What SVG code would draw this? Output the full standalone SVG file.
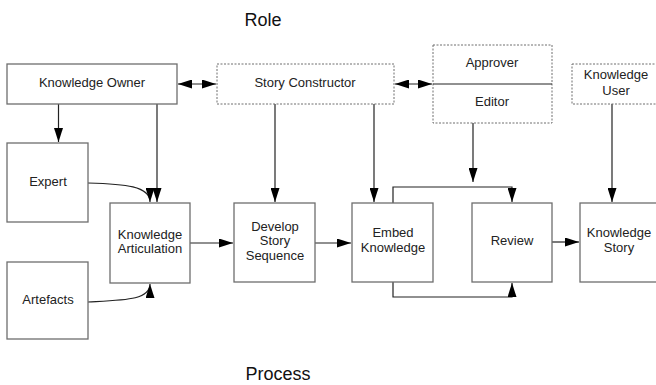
<svg xmlns="http://www.w3.org/2000/svg" width="656" height="385" viewBox="0 0 656 385">
<defs>
<marker id="ah" markerUnits="userSpaceOnUse" markerWidth="14" markerHeight="9" refX="14" refY="4.5" orient="auto-start-reverse" viewBox="0 0 14 9">
<path d="M0,0 L14,4.5 L0,9 z" fill="#000"/>
</marker>
</defs>
<style>
.box{fill:#fff;stroke:#6e6e6e;stroke-width:1.3}
.dash{fill:#fff;stroke:#6e6e6e;stroke-width:1;stroke-dasharray:2,1.5}
.t{font-family:"Liberation Sans",Arial,sans-serif;font-size:13px;fill:#222;text-anchor:middle;dominant-baseline:middle}
.h{font-family:"Liberation Sans",Arial,sans-serif;font-size:18px;fill:#111;text-anchor:middle;dominant-baseline:middle}
.c{fill:none;stroke:#222;stroke-width:1.2}
.a{marker-end:url(#ah)}
.b{marker-start:url(#ah);marker-end:url(#ah)}
</style>
<rect width="656" height="385" fill="#fff"/>
<text class="h" x="263" y="21">Role</text>
<text class="h" x="278" y="375">Process</text>

<g id="connectors">
<path class="c b" d="M178,84 L216,84"/>
<path class="c b" d="M395,84 L432,84"/>
<path class="c a" d="M58.5,104 L58.5,142"/>
<path class="c a" d="M157,104 L157,202"/>
<path class="c a" d="M88,183 C125,184 150,186 150,202"/>
<path class="c a" d="M88,302 C125,300 150,300 150,284"/>
<path class="c a" d="M275,104 L275,202"/>
<path class="c a" d="M374,104 L374,202"/>
<path class="c a" d="M473,123 L473,182"/>
<path class="c a" d="M612,104 L612,202"/>
<path class="c a" d="M190,243 L233,243"/>
<path class="c a" d="M315,243 L351,243"/>
<path class="c a" d="M552,242 L579,242"/>
<path class="c a" d="M393,203 L393,187 L512,187 L512,202"/>
<path class="c a" d="M393,282 L393,297 L512,297 L512,283"/>
</g>

<g id="knowledge-owner">
<rect class="box" x="7" y="64" width="170" height="40"/>
<text class="t" x="92" y="84">Knowledge Owner</text>
</g>
<g id="story-constructor">
<rect class="dash" x="217" y="64" width="177" height="40"/>
<text class="t" x="305" y="84">Story Constructor</text>
</g>
<g id="approver-editor">
<rect class="dash" x="433" y="45" width="119" height="78"/>
<line x1="433" y1="84" x2="552" y2="84" stroke="#222" stroke-width="1"/>
<text class="t" x="492" y="64">Approver</text>
<text class="t" x="492" y="103">Editor</text>
</g>
<g id="knowledge-user">
<rect class="dash" x="572" y="64" width="90" height="40"/>
<text class="t" x="616" y="76">Knowledge</text>
<text class="t" x="616" y="92">User</text>
</g>
<g id="expert">
<rect class="box" x="7" y="143" width="81" height="79"/>
<text class="t" x="48" y="183">Expert</text>
</g>
<g id="artefacts">
<rect class="box" x="7" y="262" width="81" height="77"/>
<text class="t" x="48" y="301">Artefacts</text>
</g>
<g id="knowledge-articulation">
<rect class="box" x="110" y="203" width="80" height="80"/>
<text class="t" x="150" y="236">Knowledge</text>
<text class="t" x="150" y="250">Articulation</text>
</g>
<g id="develop-story-sequence">
<rect class="box" x="234" y="203" width="81" height="79"/>
<text class="t" x="275" y="228">Develop</text>
<text class="t" x="275" y="242">Story</text>
<text class="t" x="275" y="257">Sequence</text>
</g>
<g id="embed-knowledge">
<rect class="box" x="352" y="203" width="81" height="79"/>
<text class="t" x="393" y="234">Embed</text>
<text class="t" x="393" y="249">Knowledge</text>
</g>
<g id="review">
<rect class="box" x="472" y="203" width="80" height="79"/>
<text class="t" x="512" y="242">Review</text>
</g>
<g id="knowledge-story">
<rect class="box" x="580" y="203" width="82" height="79"/>
<text class="t" x="619" y="234">Knowledge</text>
<text class="t" x="619" y="249">Story</text>
</g>
</svg>
